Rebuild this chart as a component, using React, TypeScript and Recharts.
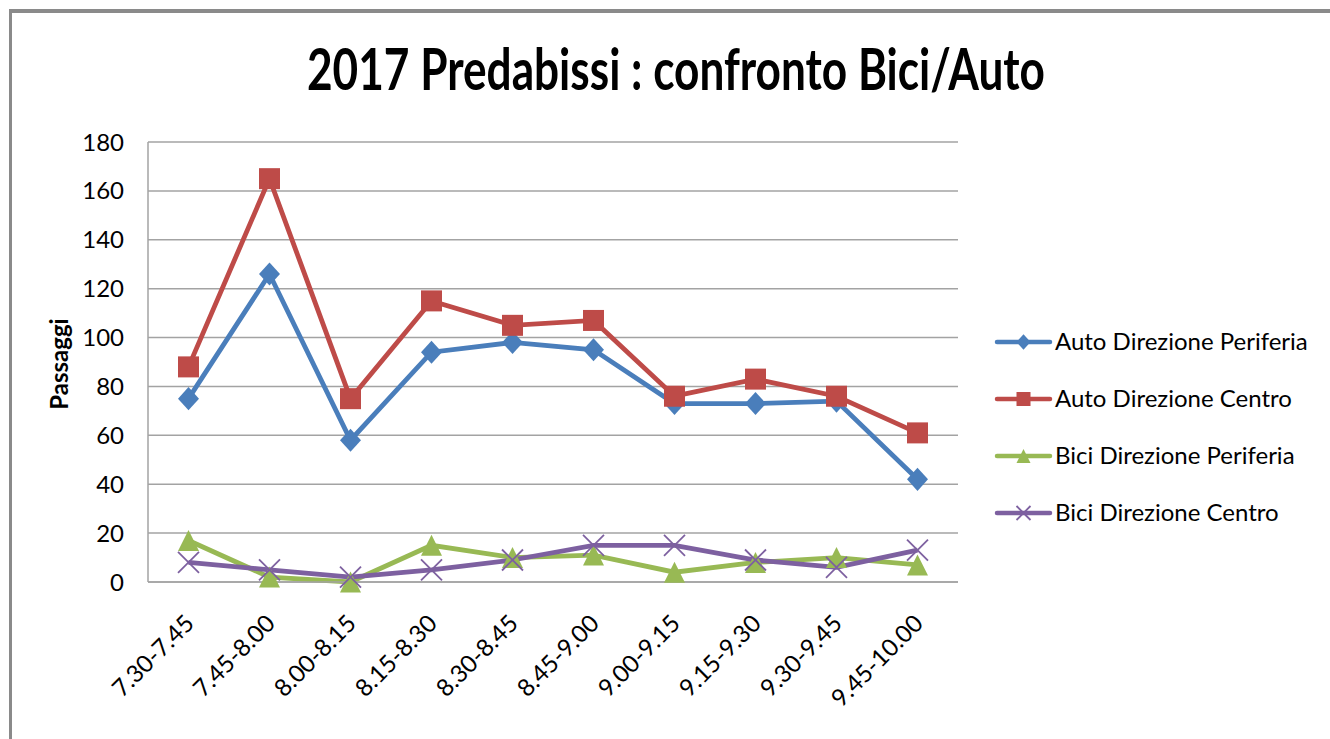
import { CartesianGrid, Line, LineChart, XAxis, YAxis } from 'recharts';

const categories = [
  '7.30-7.45',
  '7.45-8.00',
  '8.00-8.15',
  '8.15-8.30',
  '8.30-8.45',
  '8.45-9.00',
  '9.00-9.15',
  '9.15-9.30',
  '9.30-9.45',
  '9.45-10.00',
];
const autoPeriferia = [75, 126, 58, 94, 98, 95, 73, 73, 74, 42];
const autoCentro = [88, 165, 75, 115, 105, 107, 76, 83, 76, 61];
const biciPeriferia = [17, 2, 0, 15, 10, 11, 4, 8, 10, 7];
const biciCentro = [8, 5, 2, 5, 9, 15, 15, 9, 6, 13];
const yTicks = [0, 20, 40, 60, 80, 100, 120, 140, 160, 180];

const FONT = "Lato, 'Open Sans', sans-serif";
const GRID = '#a3a3a3';

const series = [
  { key: 'autoPeriferia', name: 'Auto Direzione Periferia', color: '#4a7ebb', marker: 'diamond' },
  { key: 'autoCentro', name: 'Auto Direzione Centro', color: '#be4b48', marker: 'square' },
  { key: 'biciPeriferia', name: 'Bici Direzione Periferia', color: '#98b954', marker: 'triangle' },
  { key: 'biciCentro', name: 'Bici Direzione Centro', color: '#7d60a0', marker: 'x' },
];

const data = categories.map((period, i) => ({
  period,
  autoPeriferia: autoPeriferia[i],
  autoCentro: autoCentro[i],
  biciPeriferia: biciPeriferia[i],
  biciCentro: biciCentro[i],
}));

function markerShape(type: string, cx: number, cy: number, color: string, s: number) {
  if (type === 'diamond') {
    return (
      <path
        d={`M${cx},${cy - s * 1.1} L${cx + s},${cy} L${cx},${cy + s * 1.1} L${cx - s},${cy} Z`}
        fill={color}
      />
    );
  }
  if (type === 'square') {
    return <rect x={cx - s} y={cy - s} width={s * 2} height={s * 2} fill={color} />;
  }
  if (type === 'triangle') {
    return <path d={`M${cx},${cy - s} L${cx + s},${cy + s} L${cx - s},${cy + s} Z`} fill={color} />;
  }
  return (
    <g stroke={color} strokeWidth={1.8}>
      <line x1={cx - s} y1={cy - s} x2={cx + s} y2={cy + s} />
      <line x1={cx - s} y1={cy + s} x2={cx + s} y2={cy - s} />
    </g>
  );
}

function makeDot(type: string, color: string) {
  return (props: any) => {
    const { cx, cy, index } = props;
    if (cx == null || cy == null) return <g key={index} />;
    return <g key={index}>{markerShape(type, cx, cy, color, 10.5)}</g>;
  };
}

function XTick(props: any) {
  const { x, y, payload } = props;
  const ax = x + 7;
  const ay = y + 35;
  return (
    <text
      x={ax}
      y={ay}
      transform={`rotate(-45, ${ax}, ${ay})`}
      textAnchor="end"
      fontFamily={FONT}
      fontSize={24}
      fill="#000"
    >
      {payload.value}
    </text>
  );
}

function LegendBox() {
  return (
    <svg
      width={340}
      height={240}
      style={{ position: 'absolute', left: 990, top: 322, pointerEvents: 'none' }}
    >
      {series.map((s, i) => {
        const y = 20 + i * 57;
        return (
          <g key={s.key}>
            <line x1={7} y1={y} x2={60} y2={y} stroke={s.color} strokeWidth={4.5} strokeLinecap="round" />
            {markerShape(s.marker, 33.5, y, s.color, 7)}
            <text x={65} y={y + 8} fontFamily={FONT} fontSize={24} fill="#000">
              {s.name}
            </text>
          </g>
        );
      })}
    </svg>
  );
}

export default function App() {
  return (
    <div
      style={{
        position: 'absolute',
        left: 0,
        top: 0,
        width: 1330,
        height: 739,
        background: '#fff',
        overflow: 'hidden',
      }}
    >
      <div
        style={{
          position: 'absolute',
          left: 9,
          top: 9,
          width: 1340,
          height: 800,
          borderTop: '4px solid #8a8a8a',
          borderLeft: '3px solid #8a8a8a',
        }}
      />
      <LineChart
        width={1330}
        height={739}
        data={data}
        margin={{ top: 142, right: 372, left: 88, bottom: 57 }}
        style={{ position: 'absolute', left: 0, top: 0 }}
      >
        <CartesianGrid vertical={false} stroke={GRID} strokeWidth={1.5} />
        <XAxis
          dataKey="period"
          padding={{ left: 40.5, right: 40.5 }}
          axisLine={{ stroke: GRID, strokeWidth: 1.5 }}
          tickLine={false}
          tick={<XTick />}
          interval={0}
          height={100}
        />
        <YAxis
          domain={[0, 180]}
          ticks={yTicks}
          width={60}
          axisLine={{ stroke: GRID, strokeWidth: 1.5 }}
          tickLine={false}
          tickSize={0}
          tickMargin={24}
          tick={{ fill: '#000', fontSize: 24, fontFamily: FONT }}
        />
        {series.map((s) => (
          <Line
            key={s.key}
            type="linear"
            dataKey={s.key}
            name={s.name}
            stroke={s.color}
            strokeWidth={4.8}
            dot={makeDot(s.marker, s.color)}
            activeDot={false}
            isAnimationActive={false}
          />
        ))}
      </LineChart>
      <LegendBox />
      <svg
        width={1330}
        height={739}
        style={{ position: 'absolute', left: 0, top: 0, pointerEvents: 'none' }}
      >
        <text
          x={676}
          y={90}
          textAnchor="middle"
          fontFamily={FONT}
          fontWeight="bold"
          fontSize={58}
          textLength={738}
          lengthAdjust="spacingAndGlyphs"
          fill="#000"
        >
          2017 Predabissi : confronto Bici/Auto
        </text>
        <text
          x={68}
          y={364}
          textAnchor="middle"
          transform="rotate(-90, 68, 364)"
          fontFamily={FONT}
          fontWeight="bold"
          fontSize={24}
          fill="#000"
        >
          Passaggi
        </text>
      </svg>
    </div>
  );
}
